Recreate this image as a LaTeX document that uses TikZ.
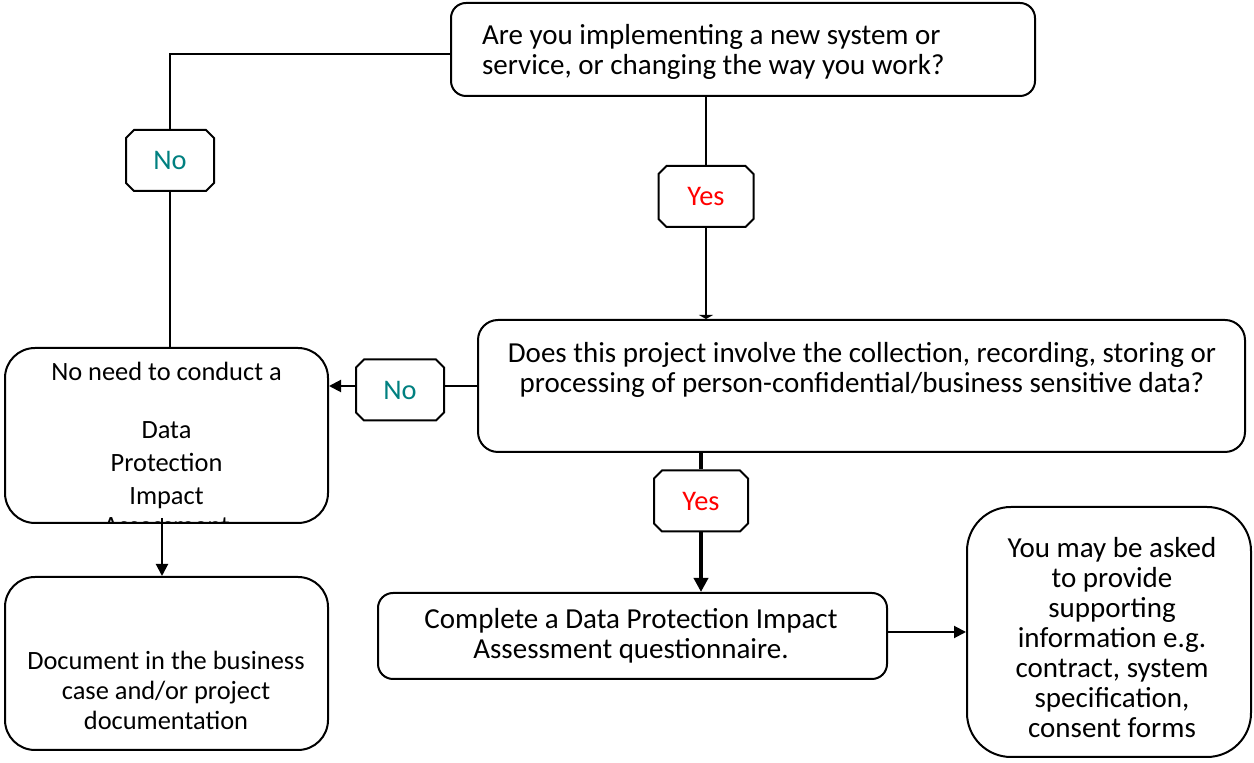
\documentclass[tikz,border=0pt]{standalone}
\usepackage{fontspec}
\setmainfont{Carlito}
\usepackage{tikz}
\usetikzlibrary{arrows.meta,shapes.misc}
\definecolor{noteal}{RGB}{0,128,128}

\begin{document}
\begin{tikzpicture}[x=0.5pt,y=-0.5pt, line width=1pt,
	>={Triangle[length=6pt,width=6pt]},
	box/.style={draw, fill=white, rounded corners=#1, inner sep=0pt},
	box/.default=8pt,
	lbl/.style={draw, fill=white, chamfered rectangle, chamfered rectangle xsep=2pt, chamfered rectangle ysep=2pt, minimum width=44pt, minimum height=30.5pt, inner sep=0pt, font=\fontsize{14.2}{15}\selectfont},
	big/.style={inner sep=0pt, align=center, font=\fontsize{14.5}{15}\selectfont},
	small/.style={inner sep=0pt, align=center, font=\fontsize{13.2}{15}\selectfont}]
\useasboundingbox (0,0) rectangle (1254,763);

% questions
\node[box=7.5pt, minimum width=292pt, minimum height=46.5pt] (q1) at (743,49.5) {};
\node[big, align=left, anchor=west] (q1t) at (481,52) {Are you implementing a new system or\\service, or changing the way you work?};
\node[box=10pt, minimum width=383.5pt, minimum height=66pt] (q2) at (861.5,386) {};
\node[big] (q2t) at (862,370) {Does this project involve the collection, recording, storing or\\processing of person-confidential/business sensitive data?};

% outcomes
\node[box=15pt, minimum width=161.5pt, minimum height=87.5pt,
	path picture={\node[small, font=\fontsize{13.2}{16.5}\selectfont] (noneedt) at ([yshift=-6.5pt]path picture bounding box.center)
	{No need to conduct a\\[12.5pt]Data\\Protection\\Impact\\[-1.5pt]Assessment};}] (noneed) at (166.5,435.5) {};
\node[box=15pt, minimum width=161.5pt, minimum height=86.5pt] (doc) at (166.5,663.5) {};
\node[small] (doct) at (166,690) {Document in the business\\case and/or project\\documentation};
\node[box=7.5pt, minimum width=254.5pt, minimum height=43pt] (done) at (632.5,636) {};
\node[big] (donet) at (631,636) {Complete a Data Protection Impact\\Assessment questionnaire.};
\node[box=22pt, minimum width=142pt, minimum height=125pt] (info) at (1109,632) {};
\node[big] (infot) at (1112,638) {You may be asked\\to provide\\supporting\\information e.g.\\contract, system\\specification,\\consent forms};

% answers
\node[lbl, text=noteal] (noA) at (170,160.5) {No};
\node[lbl, text=red, minimum width=47.5pt] (yesA) at (706,196.5) {Yes};
\node[lbl, text=noteal] (noB) at (400,390) {No};
\node[lbl, text=red, minimum width=47pt] (yesB) at (701,501) {Yes};

\draw ([yshift=-2.5pt]q1.west) -| (noA.north);
\draw (noA.south) -- (noA.south |- noneed.north);
\draw (q1.south -| yesA.north) -- (yesA.north);
\draw[-{Triangle[length=2pt,width=7pt]}] (yesA.south) -- (yesA.south |- q2.north);
\draw (q2.west) -- (q2.west -| noB.east);
\draw[line width=1.75pt] (q2.south -| yesB.north) -- (yesB.north);
%\path[->,font=\scriptsize]
\path[->]
(noB.west |- q2.west) edge (q2.west -| noneed.east)
([xshift=-2.25pt,yshift=3pt]noneed.south) edge ([xshift=-2.25pt]doc.north)
(yesB.south) edge[line width=1.75pt, >={Triangle[length=7pt,width=7pt]}] (yesB.south |- done.north)
(info.west -| done.east) edge (info.west)
;
\end{tikzpicture}
\end{document}
